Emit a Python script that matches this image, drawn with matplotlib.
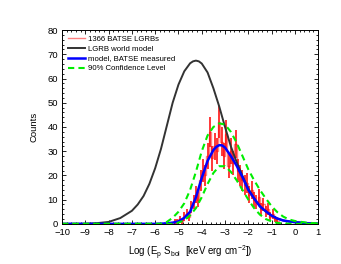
import numpy as np
import matplotlib
matplotlib.use("Agg")
import matplotlib.pyplot as plt
from matplotlib.ticker import MultipleLocator

plt.rcParams['font.family'] = ['Liberation Sans', 'DejaVu Sans']
plt.rcParams['mathtext.fontset'] = 'custom'
plt.rcParams['mathtext.rm'] = 'Liberation Sans'
plt.rcParams['mathtext.it'] = 'Liberation Sans'

# LGRB world model
x_world = [-10, -9, -8.5, -8, -7.5, -7, -6.75, -6.5, -6.25, -6, -5.75, -5.5, -5.25,
           -5, -4.75, -4.5, -4.375, -4.25, -4.125, -4, -3.75, -3.5, -3.25, -3,
           -2.75, -2.5, -2.25, -2, -1.75, -1.5, -1.25, -1, -0.75, -0.5, -0.25,
           0, 0.5, 1]
y_world = [0, 0.05, 0.3, 0.8, 2.4, 5.4, 8, 11.5, 16.5, 23, 31, 40.5, 50,
           57.5, 63, 66.3, 67.1, 67.4, 67.1, 66.2, 62.5, 56, 48.5, 40,
           32, 25.5, 19.8, 14.5, 10.5, 7.2, 5.2, 3.4, 2.2, 1.4, 1.0,
           0.7, 0.3, 0.1]

# model, BATSE measured
x_model = [-10, -6, -5.5, -5.25, -5, -4.75, -4.5, -4.25, -4, -3.75, -3.5, -3.375,
           -3.25, -3.125, -3, -2.75, -2.5, -2.25, -2, -1.75, -1.5, -1.25, -1,
           -0.75, -0.5, -0.25, 0, 0.5, 1]
y_model = [0, 0, 0.2, 0.5, 1.0, 2.5, 5, 11, 19, 26, 30.5, 31.8,
           32.5, 32.4, 31.5, 28, 24, 19.3, 14, 10.5, 7.2, 5.2, 3.4,
           2.2, 1.4, 1.0, 0.7, 0.3, 0.1]

# 90% confidence level, upper and lower
x_upper = [-10, -5.75, -5.5, -5.25, -5, -4.75, -4.5, -4.25, -4, -3.75, -3.5, -3.25,
           -3, -2.75, -2.5, -2.25, -2, -1.75, -1.5, -1.25, -1, -0.75, -0.5,
           -0.25, 0, 0.5, 1]
y_upper = [0, 0, 0.8, 2.5, 5, 8.5, 14, 21.5, 30, 36.5, 40, 41.5,
           41, 38, 33.5, 28, 22.5, 18, 14, 10.5, 7.3, 4.8, 3,
           1.8, 1.2, 0.5, 0.2]
x_lower = [-10, -5.25, -5, -4.75, -4.5, -4.25, -4, -3.75, -3.5, -3.25, -3, -2.75,
           -2.5, -2.25, -2, -1.75, -1.5, -1.25, -1, -0.75, -0.5, 0, 1]
y_lower = [0, 0, 0.5, 1.5, 3.5, 6.5, 11, 16.5, 21, 23.8, 23.8, 21.5,
           18, 14, 10, 6.5, 3.8, 2, 1, 0.4, 0.1, 0, 0]

# BATSE histogram, bins of 0.1 starting at -5.3
bin_start = -5.3
bin_width = 0.1
counts = [0, 1, 1, 2, 1, 3, 4, 3, 7, 9, 12, 10, 18, 22, 20, 28, 38, 27, 32, 30,
          42, 34, 28, 37, 24, 30, 25, 33, 22, 20, 18, 16, 17, 12, 14, 10, 9, 11,
          6, 8, 5, 6, 3, 4, 2, 1]

fig = plt.figure(figsize=(3.41, 2.64), dpi=100)
ax = fig.add_axes([0.182, 0.152, 0.751, 0.734])

counts = np.array(counts, dtype=float)
edges = bin_start + bin_width * np.arange(len(counts) + 1)
centers = edges[:-1] + bin_width / 2
ax.stairs(counts, edges, color='#ff8080', lw=1.0, label='1366 BATSE LGRBs')
ax.errorbar(centers, counts, yerr=np.sqrt(counts), fmt='none', ecolor='#ff0000',
            elinewidth=1.1, capsize=0)

ax.plot(x_world, y_world, color='#333333', lw=1.4, label='LGRB world model')
ax.plot(x_model, y_model, color='#0000ff', lw=1.8, label='model, BATSE measured')
ax.plot(x_upper, y_upper, color='#00ee00', lw=1.5, ls=(0, (3, 2)),
        label='90% Confidence Level')
ax.plot(x_lower, y_lower, color='#00ee00', lw=1.5, ls=(0, (3, 2)))

ax.set_xlim(-10, 1)
ax.set_ylim(0, 80)
ax.xaxis.set_major_locator(MultipleLocator(1))
ax.xaxis.set_minor_locator(MultipleLocator(0.2))
ax.yaxis.set_major_locator(MultipleLocator(10))
ax.yaxis.set_minor_locator(MultipleLocator(2))
ax.tick_params(which='both', direction='in', top=True, right=True, labelsize=6.8,
               width=0.6)
ax.tick_params(axis='x', pad=3)
ax.tick_params(axis='y', pad=3)
ax.tick_params(which='major', length=3)
ax.tick_params(which='minor', length=1.5)
for s in ax.spines.values():
    s.set_linewidth(0.7)

ax.set_xlabel(r'Log (E$_\mathrm{p}$ S$_\mathrm{bol}$  [keV erg cm$^{-2}$])',
              fontsize=7, labelpad=5)
ax.set_ylabel('Counts', fontsize=6.8, labelpad=6)

handles, labels = ax.get_legend_handles_labels()
leg = ax.legend(handles, labels, loc='upper left', frameon=False, fontsize=5.6,
                handlelength=2.3, handletextpad=0.3, labelspacing=0.3,
                borderaxespad=0.3)

fig.savefig('out.png', dpi=100)
